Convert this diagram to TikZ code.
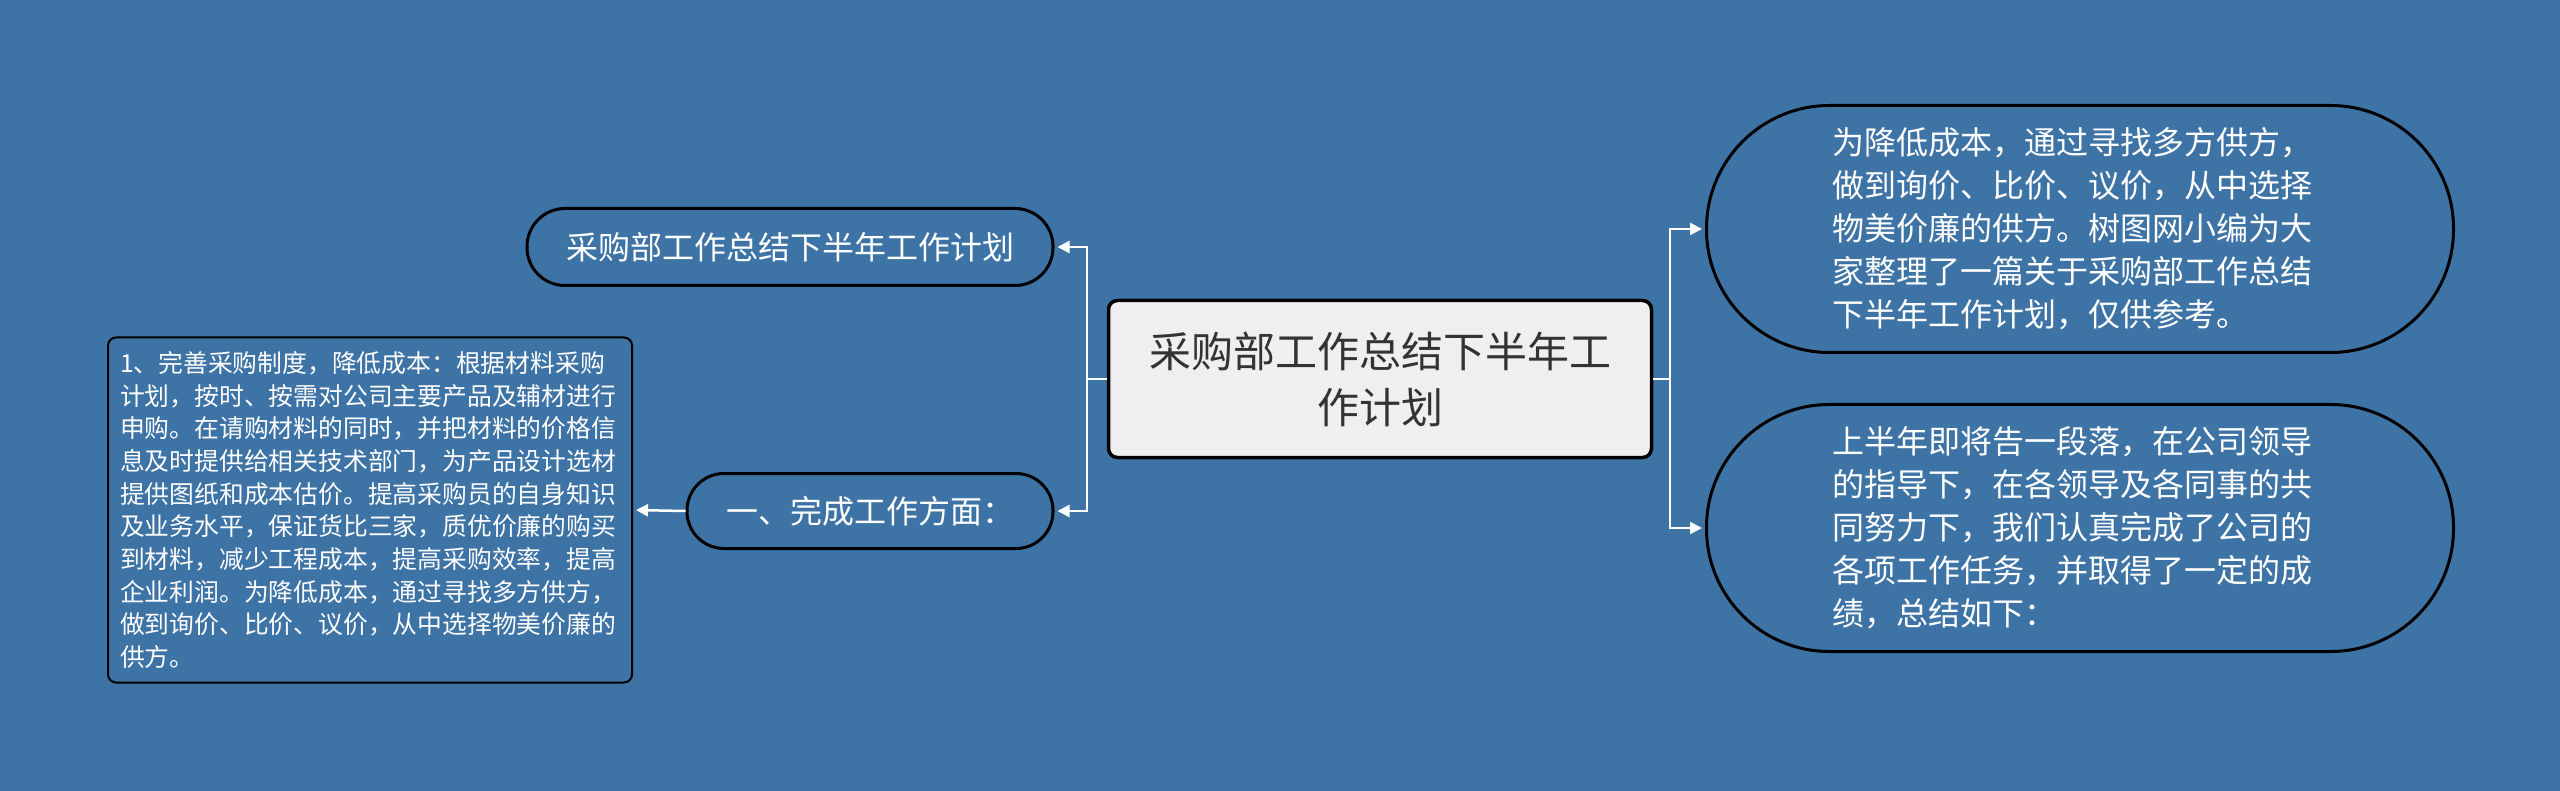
\documentclass[tikz,border=0pt]{standalone}
\usepackage{fontspec}
\setmainfont{Noto Sans CJK SC}
\usetikzlibrary{arrows.meta}
\definecolor{bg}{HTML}{3E73A6}
\definecolor{centfill}{HTML}{EFEFEF}
\definecolor{ink}{HTML}{333333}
\begin{document}
\begin{tikzpicture}[x=1pt,y=-1pt,
  conn/.style={draw=white, line width=2.5pt, shorten >=3pt, -{Triangle[length=12pt,width=12pt]}},
  pill/.style={draw=black, line width=3pt, fill=bg, text=white, inner sep=0pt},
  centbox/.style={draw=black, line width=3.5pt, fill=centfill, rounded corners=9pt, inner sep=0pt, align=center, text=ink},
  leafbox/.style={draw=black, line width=2pt, fill=bg, text=white, rounded corners=8pt, inner sep=0pt, align=left}]
\fill[bg] (0,0) rectangle (2560,791);
\useasboundingbox (0,0) rectangle (2560,791);

\node[centbox, minimum width=543pt, minimum height=157pt, font=\fontsize{42}{56}\selectfont] (c) at (1380,379) {采购部工作总结下半年工\\作计划};

\node[pill, rounded corners=38pt, minimum width=526pt, minimum height=77pt, font=\fontsize{32}{40}\selectfont] (tl) at (790,247) {采购部工作总结下半年工作计划};

\node[pill, rounded corners=37pt, minimum width=366pt, minimum height=75pt, font=\fontsize{32}{40}\selectfont] (ml) at (870,511) {一、完成工作方面：};

\node[leafbox, minimum width=524pt, minimum height=345pt, text width=500pt, font=\fontsize{24.8}{32.7}\selectfont] (lb) at (370,510) {1、完善采购制度，降低成本：根据材料采购\\计划，按时、按需对公司主要产品及辅材进行\\申购。在请购材料的同时，并把材料的价格信\\息及时提供给相关技术部门，为产品设计选材\\提供图纸和成本估价。提高采购员的自身知识\\及业务水平，保证货比三家，质优价廉的购买\\到材料，减少工程成本，提高采购效率，提高\\企业利润。为降低成本，通过寻找多方供方，\\做到询价、比价、议价，从中选择物美价廉的\\供方。};

\node[pill, rounded corners=123pt, minimum width=747pt, minimum height=247pt, text width=496pt, align=left, font=\fontsize{32}{43}\selectfont] (rt) at (2080,229) {为降低成本，通过寻找多方供方，\\做到询价、比价、议价，从中选择\\物美价廉的供方。树图网小编为大\\家整理了一篇关于采购部工作总结\\下半年工作计划，仅供参考。};

\node[pill, rounded corners=123pt, minimum width=747pt, minimum height=247pt, text width=496pt, align=left, font=\fontsize{32}{43}\selectfont] (rb) at (2080,528) {上半年即将告一段落，在公司领导\\的指导下，在各领导及各同事的共\\同努力下，我们认真完成了公司的\\各项工作任务，并取得了一定的成\\绩，总结如下：};

\coordinate (jl) at (1087,379);
\coordinate (jr) at (1670,379);
\draw[conn] (c.west) -- (jl) |- (tl.east);
\draw[conn] (c.west) -- (jl) |- (ml.east);
\draw[conn] (c.east) -- (jr) |- (rt.west);
\draw[conn] (c.east) -- (jr) |- (rb.west);
\draw[conn] (ml.west) -- (lb.east);
\end{tikzpicture}
\end{document}
